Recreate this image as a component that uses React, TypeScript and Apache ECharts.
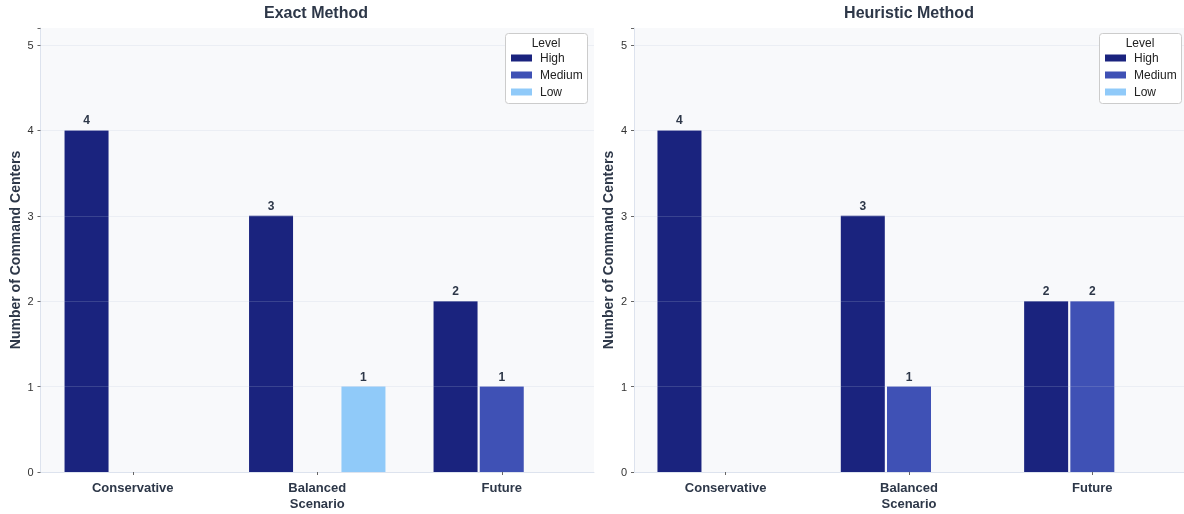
import React, { useEffect, useRef } from "react";
import * as echarts from "echarts";

const categories = ["Conservative", "Balanced\nScenario", "Future"];
const levels = ["High", "Medium", "Low"];
const levelColors = ["#1a237e", "#3f51b5", "#90caf9"];

const exactHigh = [4, 3, 2];
const exactMedium = [null, null, 1];
const exactLow = [null, 1, null];

const heuristicHigh = [4, 3, 2];
const heuristicMedium = [null, 1, 2];
const heuristicLow = [null, null, null];

const panelTitles = ["Exact Method", "Heuristic Method"];
const yAxisName = "Number of Command Centers";
const gridValues = [1, 2, 3, 4, 5];

const FONT = "'Liberation Sans', Arial, Helvetica, sans-serif";
const TEXT_DARK = "#2d3748";

export default function App() {
  const ref = useRef<HTMLDivElement>(null);

  useEffect(() => {
    if (!ref.current) return;
    const chart = echarts.init(ref.current, null, { renderer: "svg" });

    const panels = [
      { left: 40.5, right: 590, titleX: 316, legendX: 505, data: [exactHigh, exactMedium, exactLow] },
      { left: 634, right: 0, titleX: 909, legendX: 1099, data: [heuristicHigh, heuristicMedium, heuristicLow] },
    ];

    const grids = panels.map((p) => ({
      left: p.left,
      right: p.right,
      top: 28,
      bottom: 42,
      show: true,
      backgroundColor: "#f8f9fb",
      borderWidth: 0,
    }));

    const xAxes = panels.map((_, i) => ({
      type: "category",
      gridIndex: i,
      data: categories,
      axisLine: { show: true, lineStyle: { color: "#dde3ee", width: 1 } },
      axisTick: { show: true, alignWithLabel: true, length: 3, lineStyle: { color: "#666" } },
      axisLabel: {
        fontFamily: FONT,
        fontWeight: "bold",
        fontSize: 13,
        color: TEXT_DARK,
        margin: 7,
        lineHeight: 16,
      },
    }));

    const yAxes = panels.map((_, i) => ({
      type: "value",
      gridIndex: i,
      min: 0,
      max: 5.2,
      interval: 1,
      name: yAxisName,
      nameLocation: "middle",
      nameGap: 19,
      nameTextStyle: { fontFamily: FONT, fontWeight: "bold", fontSize: 14, color: TEXT_DARK },
      axisLine: { show: true, lineStyle: { color: "#dde3ee", width: 1 } },
      axisTick: { show: true, length: 3, lineStyle: { color: "#666" } },
      axisLabel: {
        fontFamily: FONT,
        fontSize: 11,
        color: "#333",
        margin: 7,
        formatter: (v: number) => (Number.isInteger(v) ? String(v) : ""),
      },
      splitLine: { show: false },
    }));

    const series: any[] = [];
    panels.forEach((p, gi) => {
      levels.forEach((lv, li) => {
        series.push({
          type: "bar",
          name: lv,
          xAxisIndex: gi,
          yAxisIndex: gi,
          data: p.data[li],
          barWidth: 44,
          barGap: "5%",
          itemStyle: { color: levelColors[li] },
          label: {
            show: true,
            position: "top",
            distance: 4,
            fontFamily: FONT,
            fontWeight: "bold",
            fontSize: 12,
            color: TEXT_DARK,
          },
          markLine:
            li === 0
              ? {
                  silent: true,
                  symbol: "none",
                  label: { show: false },
                  z: 5,
                  lineStyle: { color: "rgba(185,195,220,0.2)", type: "solid", width: 1 },
                  data: gridValues.map((v) => ({ yAxis: v })),
                }
              : undefined,
        });
      });
    });

    const graphics: any[] = [];
    panels.forEach((p) => {
      graphics.push({
        type: "rect",
        left: p.legendX,
        top: 33,
        shape: { width: 82, height: 70, r: 3 },
        style: { fill: "#ffffff", stroke: "#cccccc", lineWidth: 1 },
        z: 10,
      });
      graphics.push({
        type: "text",
        x: p.legendX + 41,
        y: 37,
        style: {
          text: "Level",
          fontFamily: FONT,
          fontSize: 12,
          fill: "#222",
          align: "center",
        },
        z: 11,
      });
    });

    chart.setOption({
      animation: false,
      textStyle: { fontFamily: FONT },
      title: panels.map((p, i) => ({
        text: panelTitles[i],
        left: p.titleX,
        top: 4,
        padding: 0,
        textAlign: "center",
        textStyle: { fontFamily: FONT, fontWeight: "bold", fontSize: 16, color: TEXT_DARK },
      })),
      legend: panels.map((p) => ({
        data: levels,
        orient: "vertical",
        left: p.legendX + 6,
        top: 52,
        itemWidth: 21,
        itemHeight: 7,
        itemGap: 5,
        icon: "rect",
        z: 12,
        textStyle: { fontFamily: FONT, fontSize: 12, color: "#222", padding: [0, 0, 0, 3] },
        padding: 0,
      })),
      grid: grids,
      xAxis: xAxes,
      yAxis: yAxes,
      series,
      graphic: graphics,
    });

    return () => chart.dispose();
  }, []);

  return (
    <div
      ref={ref}
      style={{ position: "fixed", left: 0, top: 0, width: 1184, height: 514 }}
    />
  );
}
